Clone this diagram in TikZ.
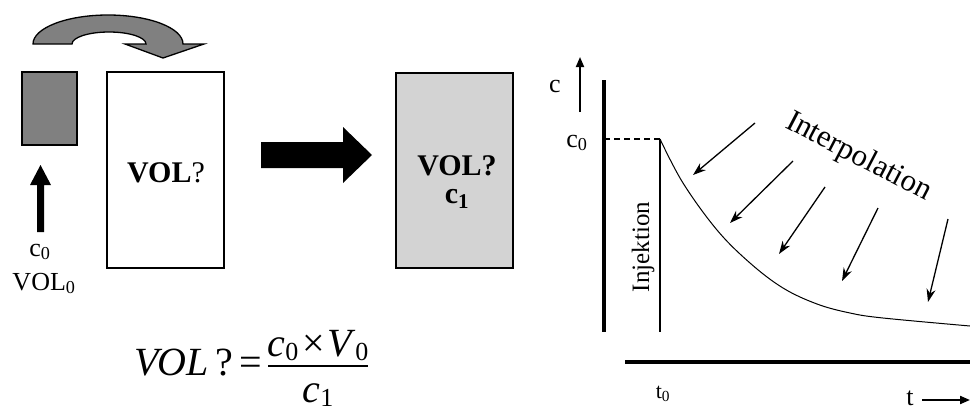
\documentclass[tikz,border=0pt]{standalone}
\usepackage{fontspec}
\setmainfont{Liberation Serif}[BoldFont={Liberation Serif Bold},ItalicFont={Liberation Serif Italic},BoldItalicFont={Liberation Serif Bold Italic}]
\usetikzlibrary{arrows.meta}
\definecolor{dgray}{HTML}{808080}
\definecolor{lgray}{HTML}{D3D3D3}
\newcommand\fsz[1]{\fontsize{#1}{#1}\selectfont}
\newcommand\lowsub[1]{\raisebox{-0.12em}{\fontsize{26}{26}\selectfont #1}}
\begin{document}
\begin{tikzpicture}[x=1pt,y=-1pt,
  box/.style={draw=black,line width=1.6pt,inner sep=0,outer sep=0,anchor=north west},
  txt/.style={inner sep=0,outer sep=0},
  interarrow/.style={line width=1.3pt,-{Stealth[length=13pt,width=9pt]}},
  axisarrow/.style={line width=1.8pt,-{Triangle[length=10pt,width=8pt]}},
]
\useasboundingbox (0,0) rectangle (970,410);

% curved transfer arrow
\draw[line width=1.3pt, fill=dgray] (33,44) arc[start angle=180,end angle=0,x radius=75pt,y radius=29pt]
  -- (204,44) -- (163,58) -- (125,44) -- (146,44)
  arc[start angle=0,end angle=180,x radius=37pt,y radius=12pt] -- cycle;

% boxes
\node[box, fill=dgray, minimum width=55pt, minimum height=73pt] (small) at (22,72) {};
\node[box, fill=white, minimum width=117pt, minimum height=196pt] (big) at (107,72) {};
\node[box, fill=lgray, minimum width=117pt, minimum height=195pt] (mix) at (396,73) {};

% box texts
\node[txt, anchor=base, font=\fsz{30}] (volq) at (166,182) {\textbf{VOL}?};
\node[txt, anchor=base, font=\fsz{30}] (volq2) at (457,175) {\textbf{VOL?}};
\node[txt, anchor=base, font=\fsz{30}] (cone) at (457,203) {\textbf{c\textsubscript{1}}};

% left labels
\node[txt, anchor=base, font=\fsz{26}] (czero) at (40,256) {c\textsubscript{0}};
\node[txt, anchor=base, font=\fsz{26}] (volzero) at (44,290) {VOL\textsubscript{0}};

% black up arrow
\fill (37,232) -- (37,185) -- (30,185) -- (40.5,165) -- (51,185) -- (44,185) -- (44,232) -- cycle;

% big block arrow
\fill (261,142) -- (343,142) -- (343,127) -- (372,155) -- (343,183) -- (343,168) -- (261,168) -- cycle;

% formula
\node[txt, anchor=base east, font=\fsz{40}] (lhs) at (262,375) {\textit{VOL}\,?\hspace{6pt}=};
\node[txt, anchor=base, font=\fsz{40}] (num) at (318,356) {\textit{c}\lowsub{0}\hspace{4pt}×\hspace{2pt}\textit{V}\lowsub{0}};
\node[txt, anchor=base, font=\fsz{40}] (den) at (318,402) {\textit{c}\lowsub{1}};
\coordinate (barL) at (268,366);
\coordinate (barR) at (368,366);
\draw[line width=2pt] (barL) -- (barR);

% graph axes
\coordinate (ytop) at (604,80);
\coordinate (ybot) at (604,332);
\draw[line width=3.5pt] (ytop) -- (ybot);
\coordinate (xl) at (625,362);
\coordinate (xr) at (970,362);
\draw[line width=3.5pt] (xl) -- (xr);

% axis labels
\node[txt, anchor=base, font=\fsz{26}] (clab) at (555,92) {c};
\coordinate (cas) at (580,112);
\coordinate (cae) at (580,57);
\draw[axisarrow] (cas) -- (cae);
\node[txt, anchor=base, font=\fsz{26}] (c0lab) at (577,147) {c\textsubscript{0}};
\node[txt, anchor=base, font=\fsz{22}] (t0lab) at (663,398) {t\textsubscript{0}};
\node[txt, anchor=base, font=\fsz{26}] (tlab) at (910,405) {t};
\coordinate (tas) at (922,400);
\coordinate (tae) at (970,400);
\draw[axisarrow, line width=2pt] (tas) -- (tae);

% injection and curve
\coordinate (peak) at (660,139);
\coordinate (injbot) at (660,332);
\draw[line width=1.5pt, dash pattern=on 6pt off 4pt] (ytop|-peak) -- (peak);
\draw[line width=1.5pt] (peak) -- (injbot);
\node[txt, rotate=90, font=\fsz{25}] (inj) at (643,247) {Injektion};
\draw[line width=1pt] plot[smooth, tension=0.6] coordinates {(660,139) (683,183) (717,230) (750,263) (783,288) (817,304) (850,313) (883,318) (970,326)};

% interpolation
\node[txt, anchor=base west, rotate=-27.5, font=\fsz{31}] (interp) at (784,127) {Interpolation};
\coordinate (a1s) at (755,123); \coordinate (a1e) at (693,175);
\coordinate (a2s) at (793,161); \coordinate (a2e) at (730,223);
\coordinate (a3s) at (825,187); \coordinate (a3e) at (779,254);
\coordinate (a4s) at (878,208); \coordinate (a4e) at (842,281);
\coordinate (a5s) at (948,219); \coordinate (a5e) at (928,302);
\draw[interarrow] (a1s) -- (a1e);
\draw[interarrow] (a2s) -- (a2e);
\draw[interarrow] (a3s) -- (a3e);
\draw[interarrow] (a4s) -- (a4e);
\draw[interarrow] (a5s) -- (a5e);
\end{tikzpicture}
\end{document}
